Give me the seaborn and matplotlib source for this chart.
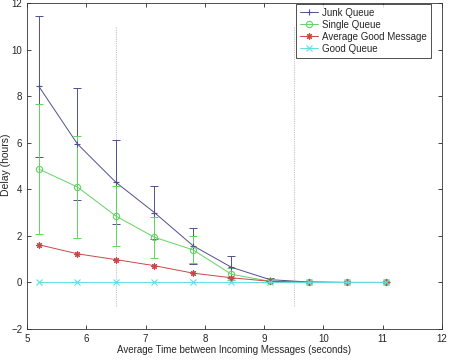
# Delay vs. average time between incoming messages
import numpy as np
import pandas as pd
import matplotlib
matplotlib.use("Agg")
import matplotlib.pyplot as plt
import seaborn as sns

# data
msg_interval = [5.2, 5.85, 6.5, 7.15, 7.8, 8.45, 9.1, 9.75, 10.4, 11.05]
junk_queue = [8.42, 5.95, 4.3, 3.0, 1.58, 0.65, 0.12, 0.02, 0.0, 0.0]
junk_err = [3.02, 2.42, 1.8, 1.15, 0.77, 0.47, 0.06, 0.01, 0.0, 0.0]
single_queue = [4.87, 4.1, 2.85, 1.94, 1.4, 0.35, 0.05, 0.0, 0.0, 0.0]
single_err = [2.78, 2.2, 1.3, 0.88, 0.58, 0.25, 0.03, 0.0, 0.0, 0.0]
avg_good_msg = [1.62, 1.23, 0.98, 0.72, 0.4, 0.2, 0.05, 0.01, 0.0, 0.0]
good_queue = [0.0, 0.0, 0.0, 0.0, 0.0, 0.0, 0.0, 0.0, 0.0, 0.0]
series_names = ["Junk Queue", "Single Queue", "Average Good Message", "Good Queue"]
series_markers = ["+", "o", (8, 2, 0), "x"]
divider_x = [6.5, 9.5]

colors = ["#50508e", "#62d462", "#c84848", "#62dede"]

sns.set_style("ticks")
plt.rcParams["font.family"] = ["Liberation Sans", "DejaVu Sans"]

fig = plt.figure(figsize=(4.5, 3.61), dpi=100)
ax = fig.add_axes([0.06, 0.0886, 0.922, 0.903])

# error bars first, lines on top
ax.errorbar(msg_interval, junk_queue, yerr=junk_err, fmt="none",
            ecolor=colors[0], elinewidth=0.7, capsize=3, capthick=0.7, zorder=2)
ax.errorbar(msg_interval, single_queue, yerr=single_err, fmt="none",
            ecolor=colors[1], elinewidth=0.7, capsize=3, capthick=0.7, zorder=2)

all_series = [junk_queue, single_queue, avg_good_msg, good_queue]
for vals, name, mk, c in zip(all_series, series_names, series_markers, colors):
    df = pd.DataFrame({"x": msg_interval, "delay": vals})
    sns.lineplot(data=df, x="x", y="delay", color=c, marker=mk, label=name,
                 linewidth=0.7, markersize=4.5, markerfacecolor="none",
                 markeredgecolor=c, markeredgewidth=0.8, ax=ax, zorder=3)

# dotted separators
ax.vlines(divider_x, -1, 11, colors="#c4c4c4", linestyles=(0, (1, 1)), linewidth=0.8, zorder=1)

ax.set_xlim(5, 12)
ax.set_ylim(-2, 12)
ax.set_xticks(range(5, 13))
ax.set_yticks(range(-2, 13, 2))
ax.tick_params(direction="in", labelsize=7, length=3, width=0.6, top=True, right=True)
for s in ax.spines.values():
    s.set_linewidth(0.6)
    s.set_color("#333333")

ax.set_xlabel("Average Time between Incoming Messages (seconds)", fontsize=7, labelpad=1)
ax.set_ylabel("Delay (hours)", fontsize=7.5, va="center")
ax.yaxis.set_label_coords(-0.05, 0.505)

leg = ax.legend(loc="upper right", bbox_to_anchor=(0.9735, 0.997), fontsize=7,
                frameon=True, fancybox=False, edgecolor="black", borderaxespad=0,
                handlelength=1.9, handletextpad=0.4, labelspacing=0.2,
                borderpad=0.4)
leg.get_frame().set_linewidth(0.6)

fig.savefig("out.png", dpi=100)
